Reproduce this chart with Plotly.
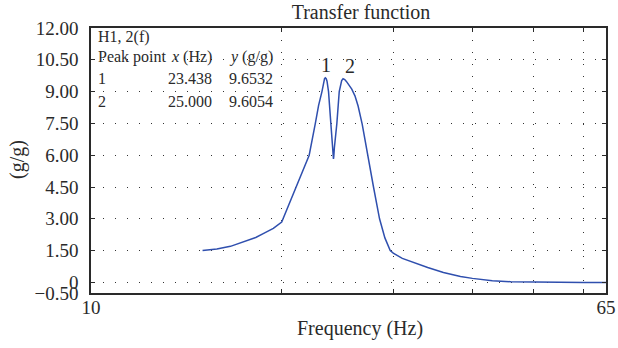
import math
import plotly.graph_objects as go

# ---------------- data ----------------
freq_hz = [15.0, 15.8, 16.6, 17.5, 18.2, 18.7, 19.4, 20.0, 20.5, 21.0, 21.5, 22.1,
           22.6, 22.87, 23.15, 23.23, 23.30, 23.37, 23.438, 23.51, 23.58, 23.65, 23.71,
           23.91, 24.06, 24.11, 24.14, 24.17, 24.22, 24.44, 24.65, 24.75, 24.87, 25.0,
           25.15, 25.3, 25.55, 25.8, 26.1, 26.4, 26.8, 27.32, 27.92, 28.54, 29.1, 29.67,
           30.0, 31.0, 32.5, 34.0, 36.0, 38.3, 40.0, 43.0, 46.0, 50.0, 55.0, 60.0, 65.0]
gain_gg = [1.50, 1.58, 1.70, 1.92, 2.12, 2.30, 2.55, 2.85, 3.63, 4.40, 5.15, 6.00,
           7.50, 8.35, 9.00, 9.28, 9.49, 9.61, 9.6532, 9.61, 9.49, 9.28, 9.00,
           7.50, 6.30, 5.92, 5.82, 5.95, 6.35, 7.50, 9.00, 9.30, 9.52, 9.6054,
           9.57, 9.48, 9.32, 9.12, 8.80, 8.32, 7.45, 6.00, 4.50, 3.00, 2.10, 1.50,
           1.38, 1.13, 0.90, 0.70, 0.47, 0.28, 0.19, 0.08, 0.03, 0.01, 0.0, 0.0, 0.0]

peak_ids = ["1", "2"]
peak_freq = [23.438, 25.000]
peak_gain = [9.6532, 9.6054]
peak_label_xshift = [1, 7]

x_tickvals = [10, 20, 30, 40, 50, 60, 65]
x_ticktext = ["10", "", "", "", "", "", "65"]
y_tickvals = [-0.5, 0, 1.5, 3.0, 4.5, 6.0, 7.5, 9.0, 10.5, 12.0]
y_ticktext = ["\u22120.50", "0", "1.50", "3.00", "4.50", "6.00", "7.50", "9.00", "10.50", "12.00"]

# ---------------- layout helpers ----------------
W, H = 618, 348
ML, MR, MT, MB = 91, 12, 28, 55
PW, PH = W - ML - MR, H - MT - MB
FONT = "Liberation Serif, Times New Roman, serif"
INK = "#2a2a2a"

def px_x(px):
    return (px - ML) / PW

def px_y(py):
    return (H - MB - py) / PH

fig = go.Figure()
fig.add_trace(go.Scatter(
    x=freq_hz, y=gain_gg, mode="lines",
    line=dict(color="#2f4fae", width=1.5, shape="linear"),
    showlegend=False, hoverinfo="x+y",
))

annotations = []
# peak labels
for pid, f, g, xs in zip(peak_ids, peak_freq, peak_gain, peak_label_xshift):
    annotations.append(dict(x=math.log10(f), y=g, xref="x", yref="y", text=pid,
                            showarrow=False, xanchor="center", yanchor="bottom",
                            xshift=xs, yshift=0, font=dict(family=FONT, size=20, color=INK)))

# table in upper-left corner
tfont = dict(family=FONT, size=16, color=INK)
annotations.append(dict(x=px_x(96), y=px_y(37), xref="paper", yref="paper", text="H1, 2(f)",
                        showarrow=False, xanchor="left", yanchor="middle", font=tfont))
annotations.append(dict(x=px_x(96), y=px_y(57), xref="paper", yref="paper",
                        text="Peak point", showarrow=False,
                        xanchor="left", yanchor="middle", font=tfont))
annotations.append(dict(x=px_x(214), y=px_y(57), xref="paper", yref="paper",
                        text="<i>x</i> (Hz)", showarrow=False,
                        xanchor="right", yanchor="middle", font=tfont))
annotations.append(dict(x=px_x(227), y=px_y(57), xref="paper", yref="paper",
                        text="<i>y</i> (g/g)", showarrow=False,
                        xanchor="left", yanchor="middle", font=tfont))
row_y = [79, 101]
for pid, f, g, ry in zip(peak_ids, peak_freq, peak_gain, row_y):
    annotations.append(dict(x=px_x(96), y=px_y(ry), xref="paper", yref="paper", text=pid,
                            showarrow=False, xanchor="left", yanchor="middle", font=tfont))
    annotations.append(dict(x=px_x(214), y=px_y(ry), xref="paper", yref="paper",
                            text=f"{f:.3f}", showarrow=False, xanchor="right",
                            yanchor="middle", font=tfont))
    annotations.append(dict(x=px_x(227), y=px_y(ry), xref="paper", yref="paper",
                            text=f"{g:.4f}", showarrow=False, xanchor="left",
                            yanchor="middle", font=tfont))

# axis titles
annotations.append(dict(x=px_x(360), y=px_y(328), xref="paper", yref="paper",
                        text="Frequency (Hz)", showarrow=False, xanchor="center",
                        yanchor="middle", font=dict(family=FONT, size=20, color=INK)))
annotations.append(dict(x=px_x(17), y=px_y(160), xref="paper", yref="paper",
                        text="(g/g)", textangle=-90, showarrow=False, xanchor="center",
                        yanchor="middle", font=dict(family=FONT, size=20, color=INK)))

grid = dict(showgrid=True, gridcolor="#333333", gridwidth=1, griddash="1px,11px")
axis_common = dict(showline=True, linecolor=INK, linewidth=1.6, mirror="ticks",
                   ticks="inside", ticklen=4, tickcolor=INK, tickwidth=1.2,
                   zeroline=False, automargin=False,
                   tickfont=dict(family=FONT, size=19, color=INK), **grid)

fig.update_layout(
    width=W, height=H,
    margin=dict(l=ML, r=MR, t=MT, b=MB, autoexpand=False),
    paper_bgcolor="white", plot_bgcolor="white",
    title=dict(text="Transfer function", x=361 / W, xref="container", xanchor="center",
               y=1 - 12 / H, yref="container", yanchor="middle",
               font=dict(family=FONT, size=20, color=INK)),
    xaxis=dict(type="log", range=[1, math.log10(65)], tickvals=x_tickvals,
               ticktext=x_ticktext, ticklabelstandoff=-4, **axis_common),
    yaxis=dict(range=[-0.5, 12], tickvals=y_tickvals, ticktext=y_ticktext,
               ticklabelstandoff=7, **axis_common),
    annotations=annotations,
    font=dict(family=FONT, color=INK),
)

fig.write_html("out.html")
